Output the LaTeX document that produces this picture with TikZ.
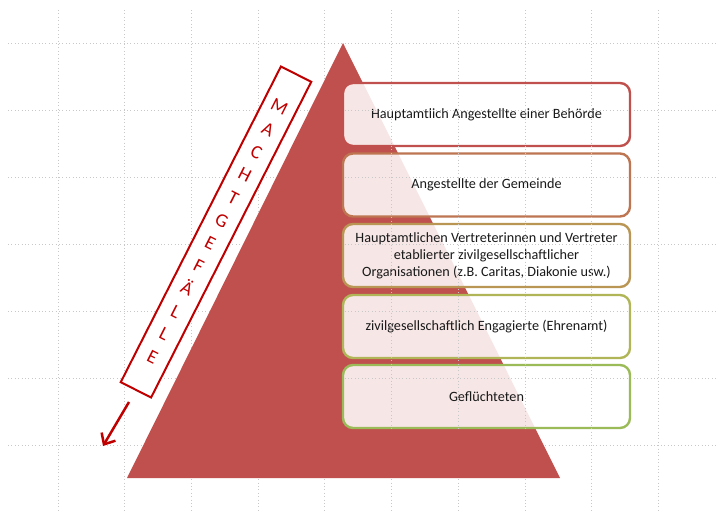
\documentclass[tikz,border=0pt]{standalone}
\usepackage{fontspec}
\setmainfont{Carlito}
\usetikzlibrary{arrows.meta}
\definecolor{pyr}{RGB}{192,80,77}
\definecolor{dred}{RGB}{192,0,0}
\definecolor{bA}{RGB}{192,80,77}
\definecolor{bB}{RGB}{190,118,82}
\definecolor{bC}{RGB}{186,150,84}
\definecolor{bD}{RGB}{176,182,88}
\definecolor{bE}{RGB}{155,187,89}
\definecolor{txt}{RGB}{25,25,25}
\definecolor{gridc}{RGB}{200,200,200}
\tikzset{
  gridline/.style={gridc, line width=0.8pt, dash pattern=on 0.8pt off 2.6pt},
  levelbox/.style={draw, line width=2.4pt, rounded corners=10pt, fill=white, fill opacity=0.86, text opacity=1,
     minimum width=287pt, minimum height=63pt, inner sep=2pt, align=center, text=txt,
     font=\fontsize{14.2}{17}\selectfont},
  machtbox/.style={draw=dred, line width=2pt, fill=white, minimum width=34pt, minimum height=354pt,
     rotate=-26.9, align=center, text=dred, inner sep=0pt, font=\fontsize{19}{25.5}\selectfont},
  machtarrow/.style={dred, line width=2.5pt, -{Straight Barb[length=9pt,width=16pt,line width=2.5pt]}}
}
\newcommand{\gridlines}{%
  \foreach \k in {0,...,6}{\draw[gridline] (8,43+67*\k) -- (718,43+67*\k);}
  \foreach \k in {0,...,9}{\draw[gridline] (58+66.7*\k,10) -- (58+66.7*\k,511);}
}
\begin{document}
\begin{tikzpicture}[x=1pt,y=-1pt]
\useasboundingbox (0,0) rectangle (718,511);
\fill[white] (0,0) rectangle (718,511);
\gridlines
\fill[pyr] (343,43) -- (127,478) -- (560,478) -- cycle;
\node[levelbox, draw=bA] (b1) at (486.5,114.5) {Hauptamtlich Angestellte einer Behörde};
\node[levelbox, draw=bB] (b2) at (486.5,185) {Angestellte der Gemeinde};
\node[levelbox, draw=bC] (b3) at (486.5,255.5) {Hauptamtlichen Vertreterinnen und Vertreter\\etablierter zivilgesellschaftlicher\\Organisationen (z.B. Caritas, Diakonie usw.)};
\node[levelbox, draw=bD] (b4) at (486.5,326.5) {zivilgesellschaftlich Engagierte (Ehrenamt)};
\node[levelbox, draw=bE] (b5) at (486.5,396.5) {Geflüchteten};
\begin{scope}
  \clip (344,84) rectangle (629,428);
  \gridlines
\end{scope}
\node[machtbox] (m) at (216,232) {M\\A\\C\\H\\T\\G\\E\\F\\Ä\\L\\L\\E};
\coordinate (as) at (129,402);
\coordinate (ae) at (103,446);
\draw[machtarrow] (as) -- (ae);
\end{tikzpicture}
\end{document}
